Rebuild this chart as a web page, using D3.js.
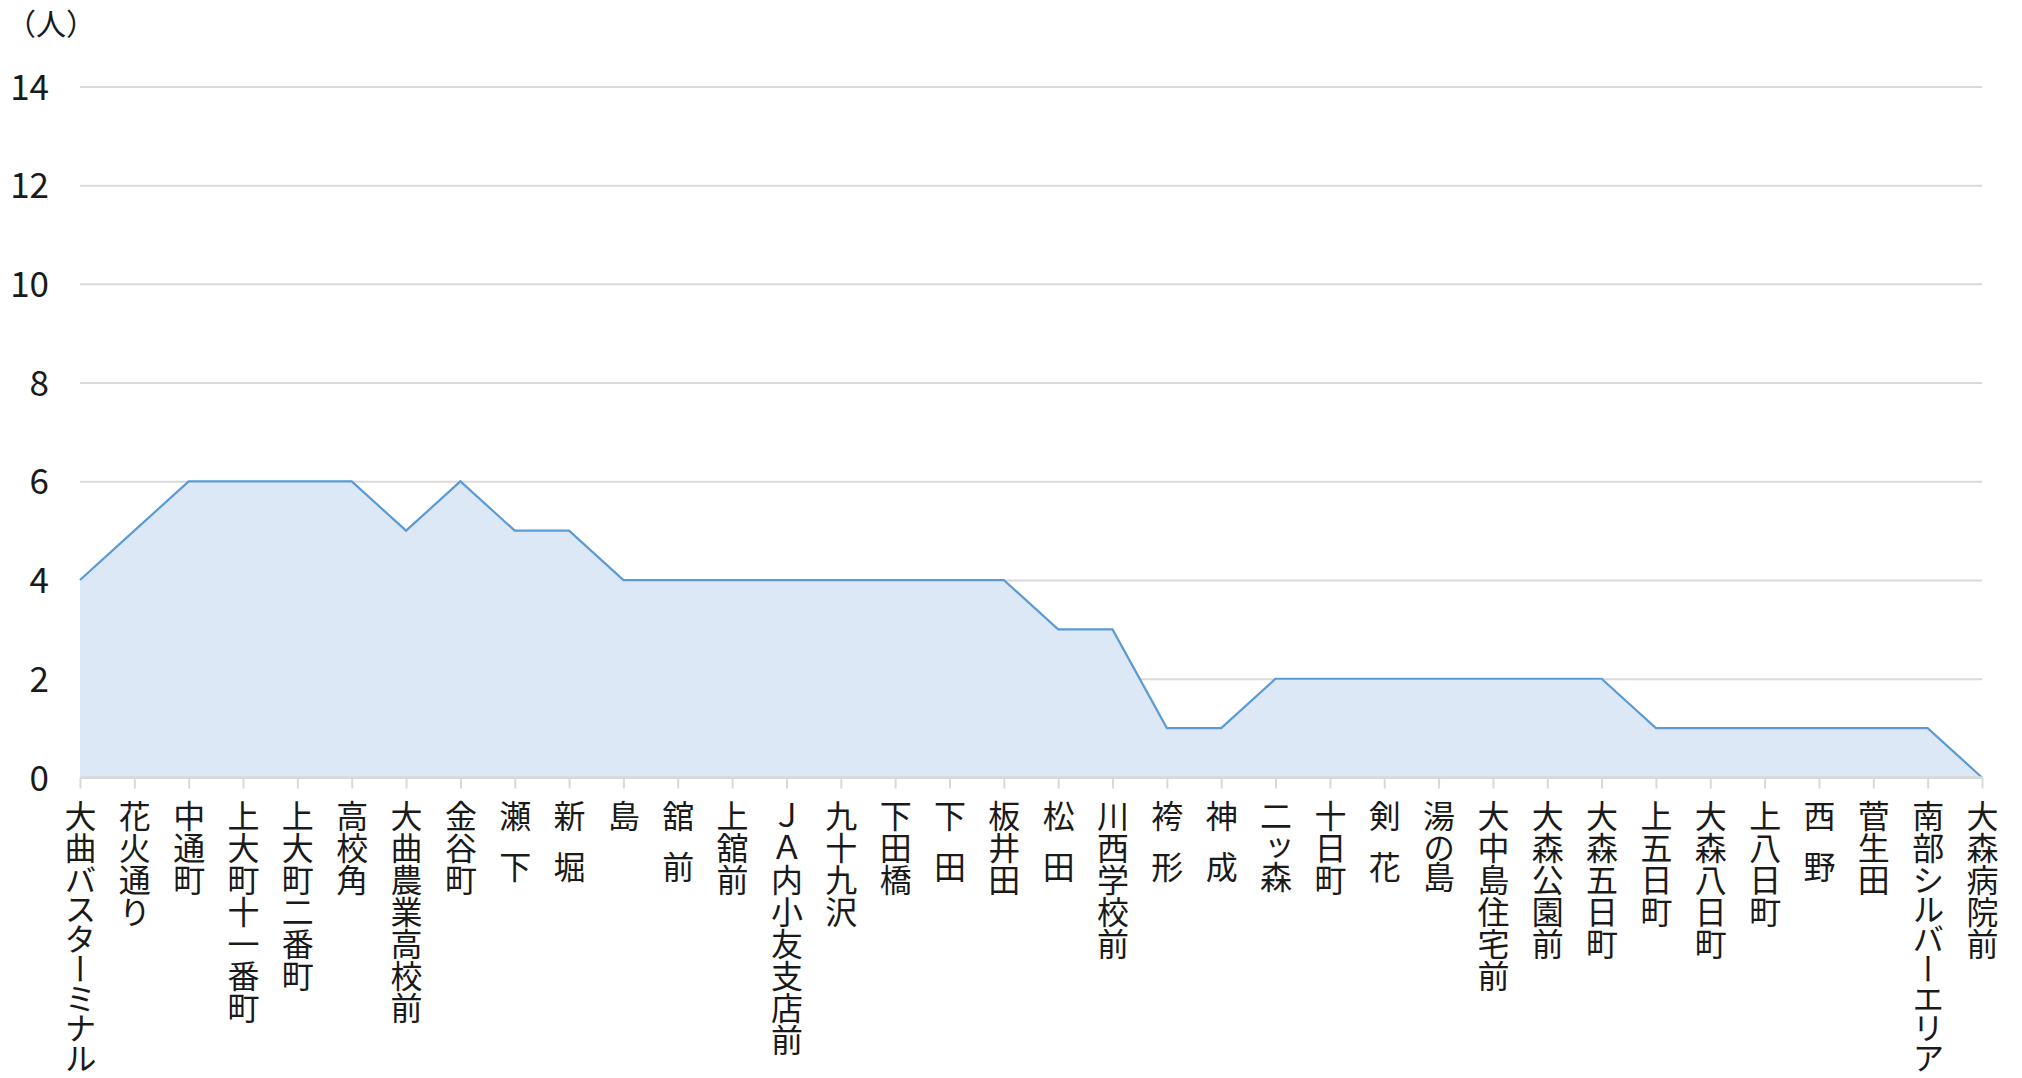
<!DOCTYPE html>
<html>
<head>
<meta charset="utf-8">
<script src="https://cdn.jsdelivr.net/npm/d3@7"></script>
<style>
  html, body { margin: 0; padding: 0; background: #ffffff; }
  svg { display: block; }
  text { font-family: "Noto Sans CJK JP", "Noto Sans", sans-serif; fill: #1a1a1a; }
</style>
</head>
<body>
<svg id="chart" width="2022" height="1078"></svg>
<script>
const stops = [
  "大曲バスターミナル", "花火通り", "中通町", "上大町十一番町", "上大町二番町", "高校角",
  "大曲農業高校前", "金谷町", "瀬 下", "新 堀", "島", "舘 前", "上舘前", "ＪＡ内小友支店前",
  "九十九沢", "下田橋", "下 田", "板井田", "松 田", "川西学校前", "袴 形", "神 成",
  "二ッ森", "十日町", "剣 花", "湯の島", "大中島住宅前", "大森公園前", "大森五日町",
  "上五日町", "大森八日町", "上八日町", "西 野", "菅生田", "南部シルバーエリア", "大森病院前"
];
const riders = [
  4, 5, 6, 6, 6, 6,
  5, 6, 5, 5, 4, 4, 4, 4,
  4, 4, 4, 4, 3, 3, 1, 1,
  2, 2, 2, 2, 2, 2, 2,
  1, 1, 1, 1, 1, 1, 0
];
const yTicks = [0, 2, 4, 6, 8, 10, 12, 14];
const unitLabel = "（人）";

const svg = d3.select("#chart");
const plotLeft = 80, plotRight = 1982, plotTop = 86.4, plotBottom = 777.5;

const x = d3.scalePoint().domain(stops).range([plotLeft, plotRight]);
const y = d3.scaleLinear().domain([0, 14]).range([plotBottom, plotTop]);

// gridlines + y labels
const yAxis = svg.append("g")
  .attr("transform", `translate(${plotLeft},0)`)
  .call(d3.axisLeft(y).tickValues(yTicks).tickSize(-(plotRight - plotLeft)).tickPadding(31));
yAxis.select(".domain").remove();
yAxis.selectAll(".tick line").attr("stroke", "#d9d9d9").attr("stroke-width", 2);
yAxis.selectAll(".tick text")
  .style("font-size", "35px")
  .attr("fill", "#1a1a1a")
  .attr("dy", "0.36em");

// area + line
const data = stops.map((s, i) => ({ s, v: riders[i] }));
svg.append("path")
  .datum(data)
  .attr("fill", "#dce8f5")
  .attr("d", d3.area().x(d => x(d.s)).y0(y(0)).y1(d => y(d.v)));
svg.append("path")
  .datum(data)
  .attr("fill", "none")
  .attr("stroke", "#5b9bd5")
  .attr("stroke-width", 2.2)
  .attr("stroke-linejoin", "miter")
  .attr("d", d3.line().x(d => x(d.s)).y(d => y(d.v)));

// x axis
const xAxis = svg.append("g")
  .attr("transform", `translate(0,${plotBottom})`)
  .call(d3.axisBottom(x).tickSize(11).tickFormat(""));
xAxis.select(".domain").attr("stroke", "#d9d9d9").attr("stroke-width", 2.5)
  .attr("d", `M${plotLeft},0H${plotRight}`);
xAxis.selectAll(".tick line").attr("stroke", "#d9d9d9").attr("stroke-width", 2);
xAxis.selectAll(".tick text").remove();

// vertical labels, char by char
const fs = 32;
const isKana = ch => /[\u3040-\u30ff]/.test(ch);
xAxis.selectAll(".tick").each(function(d) {
  const g = d3.select(this);
  let yy = 38;
  for (const ch of d) {
    if (ch === " ") { yy += fs * 0.6; continue; }
    g.append("text")
      .attr("x", 0)
      .attr("y", yy)
      .style("writing-mode", "vertical-rl")
      .style("text-orientation", "upright")
      .style("font-size", fs + "px")
      .attr("fill", "#1a1a1a")
      .text(ch);
    yy += isKana(ch) ? fs * 0.93 : fs;
  }
});

// unit label
svg.append("text")
  .attr("x", 6)
  .attr("y", 35)
  .style("font-size", "30px")
  .text(unitLabel);
</script>
</body>
</html>
